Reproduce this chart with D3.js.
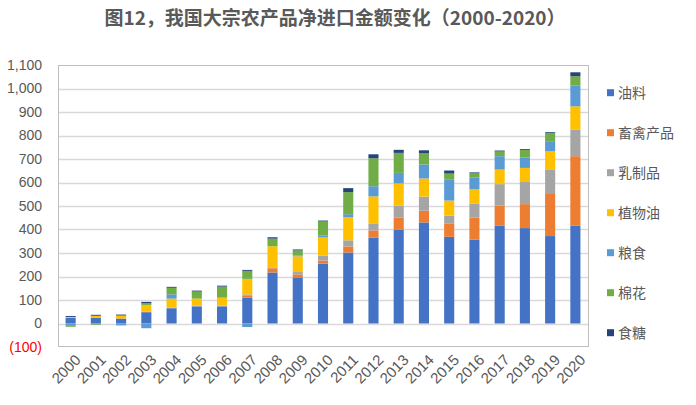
<!DOCTYPE html>
<html><head><meta charset="utf-8">
<script src="https://cdn.jsdelivr.net/npm/d3@7"></script>
<style>body{margin:0;background:#fff;} svg{display:block;}</style>
</head><body>
<svg id="chart" width="696" height="405"></svg>
<script>
const years = ["2000","2001","2002","2003","2004","2005","2006","2007","2008","2009","2010","2011","2012","2013","2014","2015","2016","2017","2018","2019","2020"];
const seriesNames = ["油料","畜禽产品","乳制品","植物油","粮食","棉花","食糖"];
const colors = ["#4472C4","#ED7D31","#A5A5A5","#FFC000","#5B9BD5","#70AD47","#264478"];
const oilseeds   = [25,25,21,48,65,73,73,110,217,196,255,302,366,400,430,369,357,417,406,372,417];
const livestock  = [0,0,0,2,0,0,0,10,18,13,13,26,30,50,50,57,94,85,102,179,295];
const dairy      = [0,0,0,0,3,3,3,4,4,10,21,26,30,51,60,33,60,91,94,105,113];
const vegOil     = [3,8,13,29,38,30,34,66,90,67,77,98,115,95,77,64,60,62,60,77,99];
const grain      = [-10,-3,-8,-20,18,0,0,-15,0,4,8,13,43,45,60,91,51,57,45,40,88];
const cotton     = [-4,-3,0,8,28,30,47,34,32,21,60,94,119,85,47,24,17,20,31,37,40];
const sugar      = [4,4,4,5,4,4,4,4,6,4,4,17,17,13,13,13,4,4,4,4,17];
const yTicks = [-100,0,100,200,300,400,500,600,700,800,900,1000,1100];

const seriesValues = [oilseeds, livestock, dairy, vegOil, grain, cotton, sugar];
const rows = years.map((yr,i)=>{const r={year:yr}; seriesNames.forEach((s,j)=>r[s]=seriesValues[j][i]); return r;});

const svg = d3.select("#chart");
const pL=58,pR=588,pT=65,pB=347;
const x = d3.scaleBand().domain(years).range([pL,pR]).paddingInner(0.6).paddingOuter(0.3);
const y = d3.scaleLinear().domain([-100,1100]).range([pB,pT]);

// gridlines
svg.append("g").selectAll("line").data(yTicks.filter(t=>t>-100 && t<1100)).join("line")
  .attr("x1",pL).attr("x2",pR).attr("y1",d=>Math.round(y(d))+0.5).attr("y2",d=>Math.round(y(d))+0.5)
  .attr("stroke","#D9D9D9").attr("stroke-width",1.3);
// frame
svg.append("rect").attr("x",pL+0.5).attr("y",pT+0.5).attr("width",pR-pL).attr("height",pB-pT-1)
  .attr("fill","none").attr("stroke","#BFBFBF").attr("stroke-width",1);

const stack = d3.stack().keys(seriesNames).offset(d3.stackOffsetDiverging);
const stacked = stack(rows);
svg.append("g").selectAll("g").data(stacked).join("g")
  .attr("fill",(d,i)=>colors[i])
  .selectAll("rect").data(d=>d).join("rect")
  .attr("x",d=>x(d.data.year)).attr("width",x.bandwidth())
  .attr("y",d=>y(Math.max(d[0],d[1]))).attr("height",d=>Math.abs(y(d[0])-y(d[1])));

// y axis labels
const fmt = d3.format(",");
svg.append("g").selectAll("text").data(yTicks).join("text")
  .attr("x",42).attr("y",d=>y(d)).attr("dy","0.35em").attr("text-anchor","end")
  .attr("font-family","Liberation Sans, Arial, sans-serif").attr("font-size",14)
  .attr("fill",d=>d<0?"#FF0000":"#595959")
  .text(d=>d<0?"("+fmt(-d)+")":fmt(d));

// x labels
svg.append("g").selectAll("text").data(years).join("text")
  .attr("transform",d=>`translate(${x(d)+x.bandwidth()/2+3},${pB+6}) rotate(-45)`)
  .attr("text-anchor","end").attr("dy","0.75em")
  .attr("font-family","Liberation Sans, Arial, sans-serif").attr("font-size",15)
  .attr("fill","#595959").text(d=>d);

// legend
const lg = svg.append("g").selectAll("g").data(seriesNames).join("g")
  .attr("transform",(d,i)=>`translate(607,${92.7+i*40})`);
lg.append("rect").attr("x",0).attr("y",-3.5).attr("width",7).attr("height",7).attr("fill",(d,i)=>colors[i]);
lg.append("text").attr("x",11).attr("dy","0.35em")
  .attr("font-family","Noto Sans CJK SC, sans-serif").attr("font-size",14).attr("fill","#595959").text(d=>d);

// title
svg.append("text").attr("x",335).attr("y",18).attr("dy","0.35em").attr("text-anchor","middle")
  .attr("font-family","Noto Sans CJK SC, sans-serif").attr("font-weight","bold").attr("font-size",19)
  .attr("fill","#595959").text("图12，我国大宗农产品净进口金额变化（2000-2020）");
</script>
</body></html>
